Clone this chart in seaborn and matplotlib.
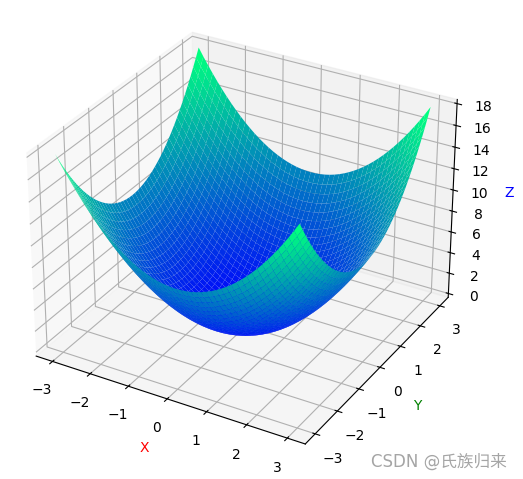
import seaborn as sns
import matplotlib.pyplot as plt
import numpy as np

plt.rcParams['font.family'] = ['DejaVu Sans', 'Noto Sans CJK SC']

# grid along each axis and the height contributed by each grid value
axis_values = [-3.0, -2.875, -2.75, -2.625, -2.5, -2.375, -2.25, -2.125, -2.0,
               -1.875, -1.75, -1.625, -1.5, -1.375, -1.25, -1.125, -1.0,
               -0.875, -0.75, -0.625, -0.5, -0.375, -0.25, -0.125, 0.0,
               0.125, 0.25, 0.375, 0.5, 0.625, 0.75, 0.875, 1.0,
               1.125, 1.25, 1.375, 1.5, 1.625, 1.75, 1.875, 2.0,
               2.125, 2.25, 2.375, 2.5, 2.625, 2.75, 2.875, 3.0]
axis_heights = [9.0, 8.266, 7.563, 6.891, 6.25, 5.641, 5.063, 4.516, 4.0,
                3.516, 3.063, 2.641, 2.25, 1.891, 1.563, 1.266, 1.0,
                0.766, 0.563, 0.391, 0.25, 0.141, 0.063, 0.016, 0.0,
                0.016, 0.063, 0.141, 0.25, 0.391, 0.563, 0.766, 1.0,
                1.266, 1.563, 1.891, 2.25, 2.641, 3.063, 3.516, 4.0,
                4.516, 5.063, 5.641, 6.25, 6.891, 7.563, 8.266, 9.0]

X, Y = np.meshgrid(axis_values, axis_values)
Z = np.add.outer(axis_heights, axis_heights)

fig = plt.figure(figsize=(5.23, 4.79), dpi=100)
ax = fig.add_axes([-0.042, 0.01, 1.0, 1.0], projection='3d')
ax.plot_surface(X, Y, Z, cmap=sns.color_palette('winter', as_cmap=True), rstride=1, cstride=1)

ax.set_xlabel('X', color='red')
ax.set_ylabel('Y', color='green')
ax.set_zlabel('Z', color='blue')

fig.text(0.71, 0.025, 'CSDN @氏族归来', color='#a5a5a5', fontsize=12)

plt.savefig('out.png', dpi=100)
